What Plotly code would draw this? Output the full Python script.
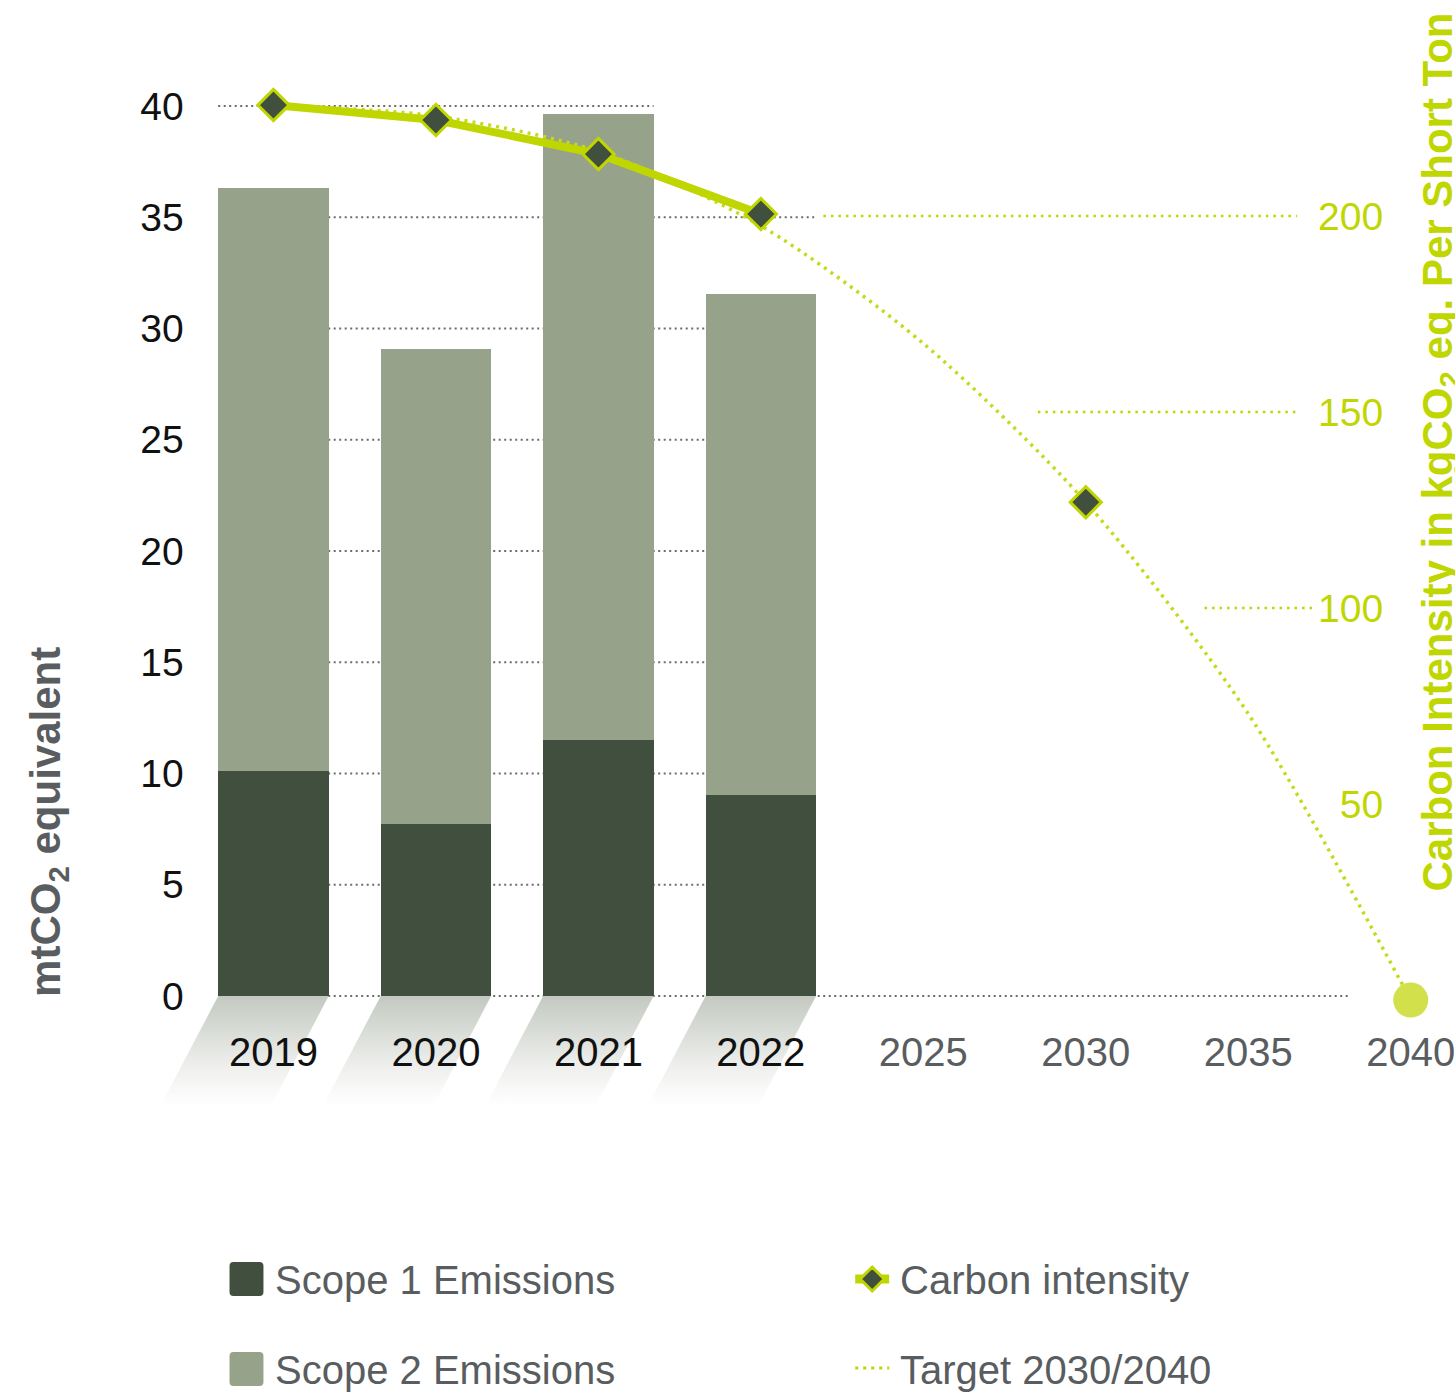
import plotly.graph_objects as go

# ---- data -------------------------------------------------------------
years = ["2019", "2020", "2021", "2022", "2025", "2030", "2035", "2040"]
actual_years = ["2019", "2020", "2021", "2022"]
scope1 = [10.1, 7.75, 11.5, 9.05]          # mtCO2e
scope2 = [26.2, 21.35, 28.15, 22.5]        # mtCO2e
intensity = [228.3, 224.5, 215.8, 200.5]   # kgCO2e per short ton
target = [228.3, 225.5, 216.5, 197.5, 167.5, 127.0, 73.0, 0.0]
milestone_years = ["2030", "2040"]
milestone_values = [127.0, 0.0]
left_ticks = [0, 5, 10, 15, 20, 25, 30, 35, 40]
right_ticks = [50, 100, 150, 200]

# ---- styling ----------------------------------------------------------
W, H = 1455, 1392
FONT = "Liberation Sans"
C_S1 = "#414f3e"
C_S2 = "#96a28a"
C_LIME = "#bfd600"
C_LIME_DOT = "#c4da1a"
C_CIRCLE = "#d2e14b"
C_GREY_TXT = "#595d60"
C_GRID = "#6b6b6b"
BAR_W = 0.68


def px(x):
    return x / W


def py(y):
    return 1 - y / H


pos = {y: i for i, y in enumerate(years)}
bar_x = [pos[y] for y in actual_years]

fig = go.Figure()

# gradient "floor shadow" under each bar
sx, sy = [], []
half = BAR_W / 2
skew = 0.356
depth = -4.94
for x in bar_x:
    sx += [x - half, x + half, x + half - skew, x - half - skew, x - half, None]
    sy += [0, 0, depth, depth, 0, None]
fig.add_trace(go.Scatter(
    x=sx, y=sy, mode="lines", line=dict(width=0), fill="toself",
    fillgradient=dict(type="vertical",
                      colorscale=[[0, "rgba(255,255,255,1)"],
                                  [0.35, "#eff0ee"],
                                  [1, "#c3c9c0"]]),
    hoverinfo="skip", showlegend=False))

fig.add_trace(go.Bar(x=bar_x, y=scope1, name="Scope 1 Emissions",
                     marker=dict(color=C_S1, line=dict(width=0)),
                     width=BAR_W, showlegend=False))
fig.add_trace(go.Bar(x=bar_x, y=scope2, name="Scope 2 Emissions",
                     marker=dict(color=C_S2, line=dict(width=0)),
                     width=BAR_W, showlegend=False))

fig.add_trace(go.Scatter(
    x=[pos[y] for y in years], y=target, yaxis="y2", mode="lines",
    name="Target 2030/2040",
    line=dict(color=C_LIME_DOT, width=3.5, dash="3px,5px", shape="spline",
              smoothing=0.8),
    showlegend=False))

fig.add_trace(go.Scatter(
    x=bar_x, y=intensity, yaxis="y2", mode="lines+markers",
    name="Carbon intensity",
    line=dict(color=C_LIME, width=8),
    marker=dict(symbol="diamond", size=24, color=C_S1,
                line=dict(color=C_LIME, width=3)),
    showlegend=False, cliponaxis=False))

fig.add_trace(go.Scatter(
    x=[pos[y] for y in milestone_years], y=milestone_values, yaxis="y2",
    mode="markers",
    marker=dict(symbol=["diamond", "circle"], size=[24, 35], opacity=1,
                color=[C_S1, C_CIRCLE],
                line=dict(color=[C_LIME, C_CIRCLE], width=[3, 0])),
    showlegend=False, cliponaxis=False))

# ---- grid lines -------------------------------------------------------
shapes = []
left_edge = bar_x[0] - half
for v in left_ticks:
    if v == 0:
        x1 = 6.62
    elif v == 40:
        x1 = bar_x[2] + half
    else:
        x1 = bar_x[3] + half
    shapes.append(dict(type="line", xref="x", yref="y", x0=left_edge, x1=x1,
                       y0=v, y1=v, layer="below",
                       line=dict(color=C_GRID, width=2, dash="2px,3.5px")))

right_grid = {200: (3.385, 6.30), 150: (4.705, 6.30), 100: (5.731, 6.41)}
for v, (a, b) in right_grid.items():
    shapes.append(dict(type="line", xref="x", yref="y2", x0=a, x1=b,
                       y0=v, y1=v, layer="below",
                       line=dict(color=C_LIME, width=2.5, dash="2.5px,5px")))

# ---- legend (drawn in paper space) -----------------------------------
annotations = []


def rounded_square(x0, y0, s, r):
    X = lambda v: px(v)
    Y = lambda v: py(v)
    x1, y1 = x0 + s, y0 + s
    return (f"M {X(x0 + r)},{Y(y0)} L {X(x1 - r)},{Y(y0)} Q {X(x1)},{Y(y0)} {X(x1)},{Y(y0 + r)} "
            f"L {X(x1)},{Y(y1 - r)} Q {X(x1)},{Y(y1)} {X(x1 - r)},{Y(y1)} "
            f"L {X(x0 + r)},{Y(y1)} Q {X(x0)},{Y(y1)} {X(x0)},{Y(y1 - r)} "
            f"L {X(x0)},{Y(y0 + r)} Q {X(x0)},{Y(y0)} {X(x0 + r)},{Y(y0)} Z")


legend_font = dict(family=FONT, size=40, color=C_GREY_TXT)
for name, color, ytop in [("Scope 1 Emissions", C_S1, 1262),
                          ("Scope 2 Emissions", C_S2, 1352)]:
    shapes.append(dict(type="path", xref="paper", yref="paper",
                       path=rounded_square(230, ytop, 34, 4),
                       fillcolor=color, line=dict(width=0)))
    annotations.append(dict(xref="paper", yref="paper", x=px(274),
                            y=py(ytop + 18), xanchor="left", yanchor="middle",
                            text=name, showarrow=False, font=legend_font))

# carbon intensity entry
ly = 1279
shapes.append(dict(type="line", xref="paper", yref="paper",
                   x0=px(857), x1=px(891), y0=py(ly), y1=py(ly),
                   line=dict(color=C_LIME, width=9)))
d = 12
shapes.append(dict(type="path", xref="paper", yref="paper",
                   path=(f"M {px(874)},{py(ly - d)} L {px(874 + d)},{py(ly)} "
                         f"L {px(874)},{py(ly + d)} L {px(874 - d)},{py(ly)} Z"),
                   fillcolor=C_S1, line=dict(color=C_LIME, width=3)))
annotations.append(dict(xref="paper", yref="paper", x=px(900), y=py(ly + 1),
                        xanchor="left", yanchor="middle", text="Carbon intensity",
                        showarrow=False, font=legend_font))
# target entry
ly2 = 1368
shapes.append(dict(type="line", xref="paper", yref="paper",
                   x0=px(857), x1=px(891), y0=py(ly2), y1=py(ly2),
                   line=dict(color=C_LIME, width=3, dash="3px,5px")))
annotations.append(dict(xref="paper", yref="paper", x=px(900), y=py(ly2 + 2),
                        xanchor="left", yanchor="middle", text="Target 2030/2040",
                        showarrow=False, font=legend_font))

# axis titles
annotations.append(dict(xref="paper", yref="paper", x=px(48), y=py(999),
                        xanchor="center", yanchor="bottom", textangle=-90,
                        text="<b>mtCO<sub>2</sub> equivalent</b>", showarrow=False,
                        font=dict(family=FONT, size=42, color=C_GREY_TXT)))
annotations.append(dict(xref="paper", yref="paper", x=px(1443), y=py(894),
                        xanchor="center", yanchor="bottom", textangle=-90,
                        text="<b>Carbon Intensity in kgCO<sub>2</sub> eq. Per Short Ton</b>",
                        showarrow=False,
                        font=dict(family=FONT, size=42, color=C_LIME)))

# ---- axes -------------------------------------------------------------
tick_text = [y if y in actual_years else f'<span style="color:{C_GREY_TXT}">{y}</span>'
             for y in years]

fig.update_layout(
    width=W, height=H,
    margin=dict(l=0, r=0, t=0, b=0),
    paper_bgcolor="white", plot_bgcolor="white",
    barmode="stack", bargap=0,
    font=dict(family=FONT, size=40, color="#111111"),
    showlegend=False,
    shapes=shapes, annotations=annotations,
    xaxis=dict(domain=[px(140), 1], range=[-0.8231, 7.254],
               tickmode="array", tickvals=list(range(len(years))),
               ticktext=tick_text, anchor="free", position=py(1025),
               showgrid=False, zeroline=False, showline=False, ticks="",
               ticklabeloverflow="allow",
               tickfont=dict(family=FONT, size=40, color="#111111")),
    yaxis=dict(domain=[py(1110), py(60)], range=[-5.124, 42.07],
               anchor="free", position=px(200),
               tickmode="array", tickvals=left_ticks,
               showgrid=False, zeroline=False, showline=False, ticks="",
               ticklabelstandoff=16,
               tickfont=dict(family=FONT, size=39, color="#111111")),
    yaxis2=dict(overlaying="y", anchor="free", position=px(1386), side="left",
                range=[-28.06, 239.8], tickmode="array", tickvals=right_ticks,
                showgrid=False, zeroline=False, showline=False, ticks="",
                tickfont=dict(family=FONT, size=39, color=C_LIME)),
)

fig.write_html("out.html")
